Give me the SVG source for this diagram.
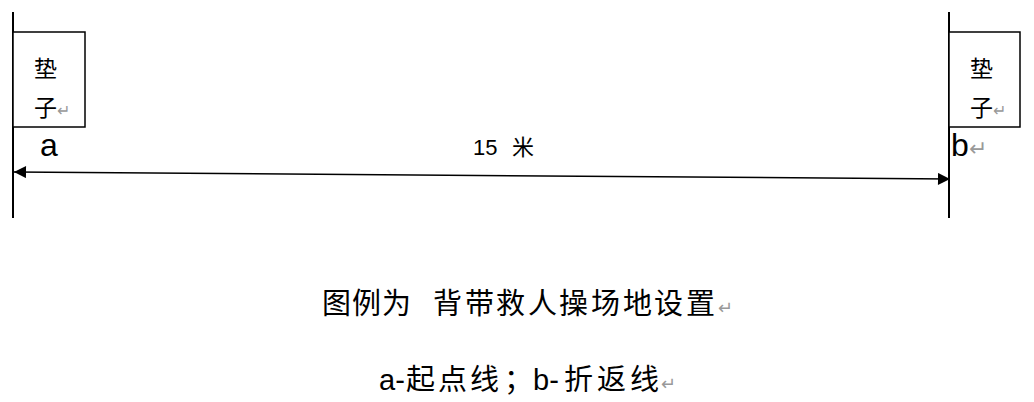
<svg xmlns="http://www.w3.org/2000/svg" width="1034" height="402" viewBox="0 0 1034 402">
<style>
.ln{stroke:#000;stroke-width:2;fill:none}
.box{stroke:#000;stroke-width:1.5;fill:#fff}
.t{font-family:"Liberation Sans","Noto Sans CJK SC",sans-serif;fill:#000}
.pm{fill:#999}
</style>
<defs>
<marker id="ah" viewBox="0 0 10 10" refX="10" refY="5" markerWidth="16" markerHeight="12" markerUnits="userSpaceOnUse" orient="auto-start-reverse">
<path d="M0,0 L10,5 L0,10 Z" fill="#000"/>
</marker>
</defs>
<g id="connectors">
<line class="ln" x1="13" y1="12" x2="13" y2="218"/>
<line class="ln" x1="949" y1="12" x2="949" y2="218"/>
<line x1="14" y1="172" x2="950" y2="179" stroke="#000" stroke-width="1.5" marker-start="url(#ah)" marker-end="url(#ah)"/>
</g>
<g id="node-pad-a">
<rect class="box" x="13" y="32" width="72" height="95"/>
<text class="t" x="34" y="77" font-size="23">垫</text>
<text class="t" x="34" y="116" font-size="23">子<tspan class="pm" font-size="16">↵</tspan></text>
</g>
<g id="node-pad-b">
<rect class="box" x="949" y="32" width="71" height="95"/>
<text class="t" x="970" y="77" font-size="23">垫</text>
<text class="t" x="970" y="116" font-size="23">子<tspan class="pm" font-size="16">↵</tspan></text>
</g>
<g id="labels">
<text class="t" x="40" y="156" font-size="32">a</text>
<text class="t" x="951" y="156" font-size="32">b<tspan class="pm" font-size="22">↵</tspan></text>
<text class="t" y="155" font-size="22"><tspan x="473">15</tspan><tspan x="512">米</tspan></text>
<text class="t" y="314" font-size="29"><tspan x="322 352 382">图例为</tspan><tspan x="433 465 496 528 559 591 623 654 686">背带救人操场地设置</tspan><tspan class="pm" x="718" font-size="18">↵</tspan></text>
<text class="t" y="390" font-size="29"><tspan x="379">a-</tspan><tspan x="406 438 470">起点线</tspan><tspan x="504">；</tspan><tspan x="533">b-</tspan><tspan x="564 597 630">折返线</tspan><tspan class="pm" x="661" font-size="18">↵</tspan></text>
</g>
</svg>
